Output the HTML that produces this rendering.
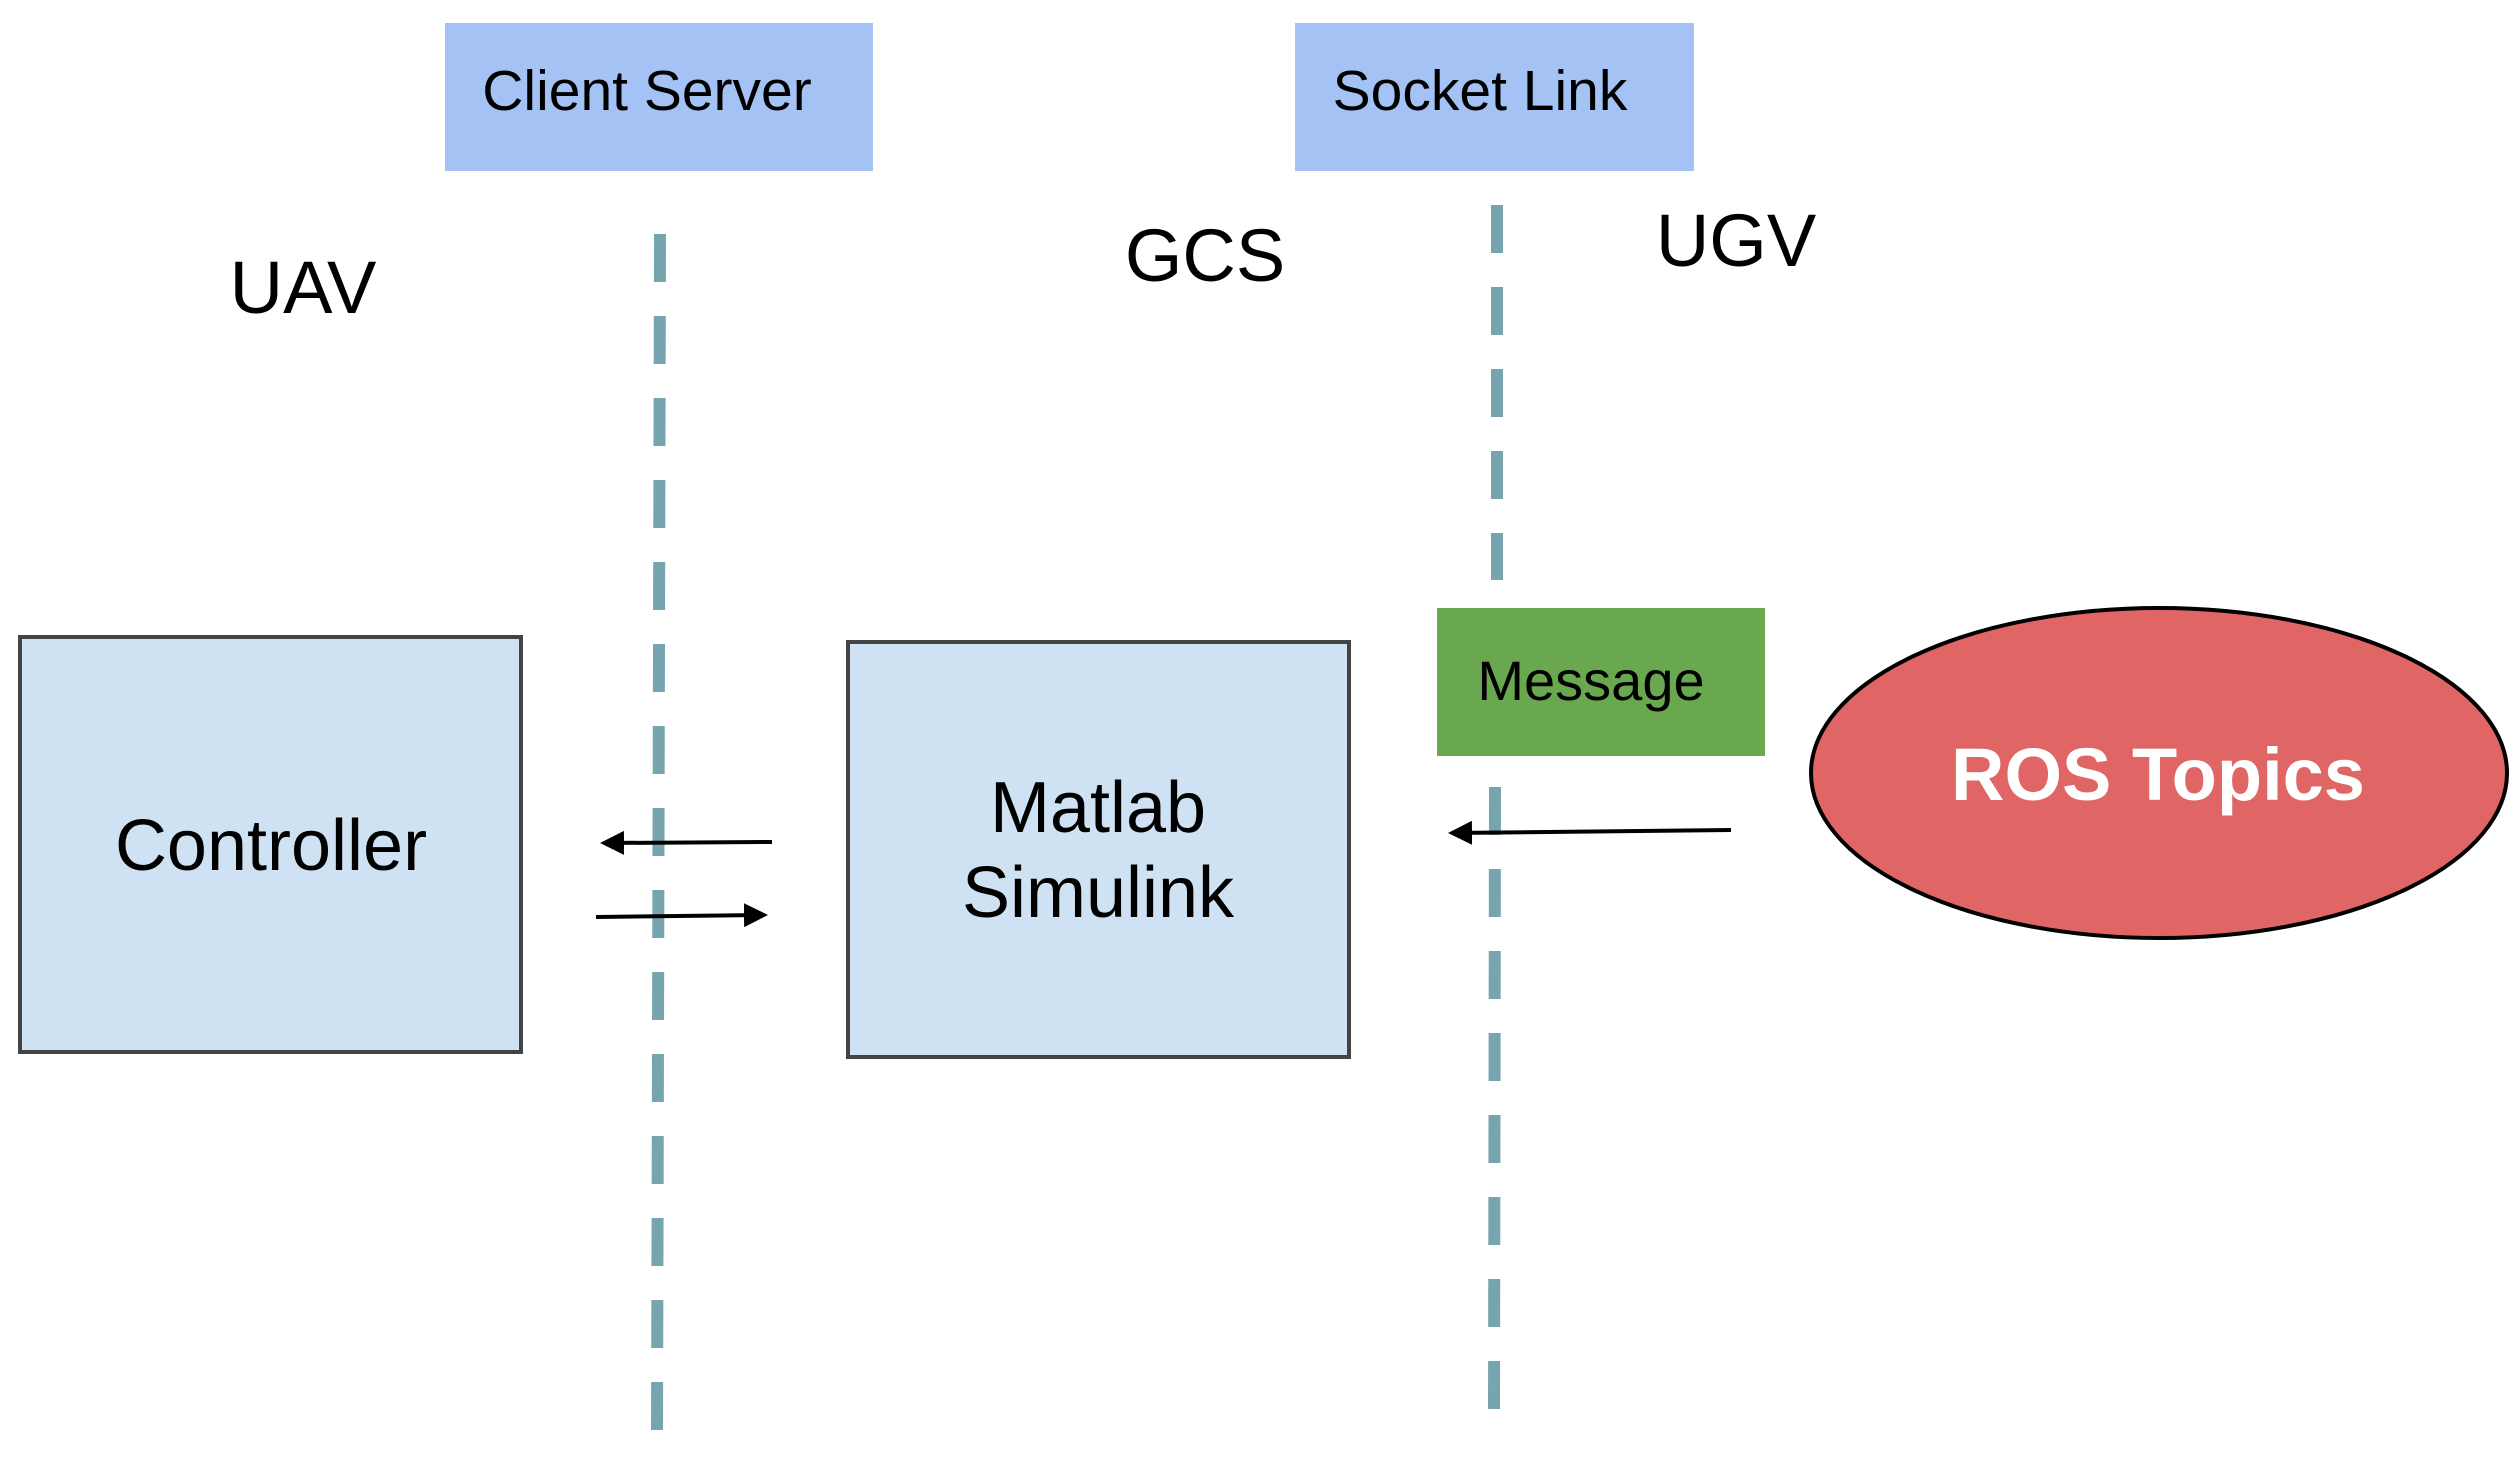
<!DOCTYPE html>
<html><head><meta charset="utf-8"><style>
html,body{margin:0;padding:0;background:#fff;}
svg{display:block;}
</style></head><body>
<svg width="2516" height="1458" viewBox="0 0 2516 1458" xmlns="http://www.w3.org/2000/svg" font-family="Liberation Sans, Arial, sans-serif">
<defs>
<marker id="ah" markerWidth="6" markerHeight="6" refX="5" refY="3" orient="auto" markerUnits="strokeWidth">
<path d="M0,0 L6,3 L0,6 z" fill="#000"/>
</marker>
</defs>
<rect x="445" y="23" width="428" height="148" fill="#a4c2f4"/>
<text x="647" y="110" font-size="57" text-anchor="middle" fill="#000">Client Server</text>
<rect x="1295" y="23" width="399" height="148" fill="#a4c2f4"/>
<text x="1480" y="110" font-size="57" text-anchor="middle" fill="#000">Socket Link</text>
<text x="303" y="313" font-size="74" text-anchor="middle">UAV</text>
<text x="1205" y="281" font-size="74" text-anchor="middle">GCS</text>
<text x="1736" y="266" font-size="74" text-anchor="middle">UGV</text>
<line x1="660" y1="234" x2="657" y2="1444" stroke="#76a5af" stroke-width="12" stroke-dasharray="48 34"/>
<line x1="1497" y1="205" x2="1497" y2="580" stroke="#76a5af" stroke-width="12" stroke-dasharray="48 34"/>
<line x1="1495" y1="787" x2="1494" y2="1416" stroke="#76a5af" stroke-width="12" stroke-dasharray="48 34"/>
<rect x="20" y="637" width="501" height="415" fill="#cfe2f3" stroke="#434343" stroke-width="4"/>
<text x="271" y="870" font-size="72" text-anchor="middle">Controller</text>
<rect x="848" y="642" width="501" height="415" fill="#cfe2f3" stroke="#434343" stroke-width="4"/>
<text x="1098" y="832" font-size="72" text-anchor="middle">Matlab</text>
<text x="1098" y="917" font-size="72" text-anchor="middle">Simulink</text>
<rect x="1437" y="608" width="328" height="148" fill="#6aa84f"/>
<text x="1591" y="700" font-size="56" text-anchor="middle">Message</text>
<ellipse cx="2159" cy="773" rx="348" ry="165" fill="#e06666" stroke="#000" stroke-width="4"/>
<text x="2158" y="800" font-size="74" font-weight="bold" text-anchor="middle" fill="#fff">ROS Topics</text>
<line x1="772" y1="842" x2="604" y2="843" stroke="#000" stroke-width="4" marker-end="url(#ah)"/>
<line x1="596" y1="917" x2="764" y2="915" stroke="#000" stroke-width="4" marker-end="url(#ah)"/>
<line x1="1731" y1="830" x2="1452" y2="833" stroke="#000" stroke-width="4" marker-end="url(#ah)"/>
</svg>
</body></html>
